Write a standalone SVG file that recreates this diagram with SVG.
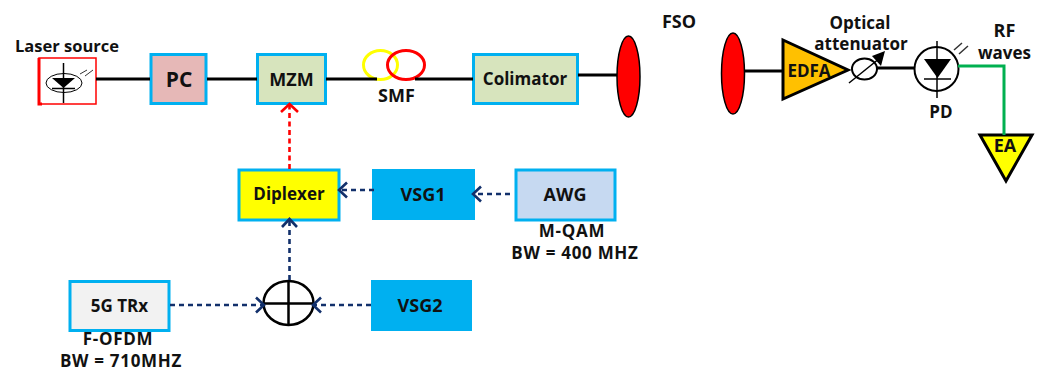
<svg xmlns="http://www.w3.org/2000/svg" width="1041" height="370" viewBox="0 0 1041 370">
<defs>
<marker id="navy" markerUnits="userSpaceOnUse" markerWidth="14" markerHeight="20" refX="11" refY="10" orient="auto"><path d="M3 2.500 L11 10 L3 17.500" fill="none" stroke="#12306b" stroke-width="2.600"/></marker>
<marker id="redm" markerUnits="userSpaceOnUse" markerWidth="14" markerHeight="22" refX="11" refY="11" orient="auto"><path d="M3 2.500 L11 11 L3 19.500" fill="none" stroke="#ff0000" stroke-width="2.600"/></marker>
</defs>
<style>
text{font-family:"Open Sans","Liberation Sans",Arial,sans-serif;font-weight:700;fill:#111;text-anchor:middle}
.t16{font-size:16.500px}.t17{font-size:17px}.t18{font-size:18px}.t21{font-size:21px}
.cap{font-size:17px;letter-spacing:.7px}
.box{stroke:#00b0f0;stroke-width:3}
.solid{fill:#00b0f0;stroke:#00b0f0;stroke-width:1}
.k{fill:none;stroke:#000;stroke-width:3}
.thin{fill:none;stroke:#000;stroke-width:1.500}
.nv{fill:none;stroke:#12306b;stroke-width:2.600;stroke-dasharray:5 4}
.lens{fill:#ff0000;stroke:#000;stroke-width:1.500}
</style>
<rect width="1041" height="370" fill="#fff"/>
<g id="laser">
<rect x="39" y="58" width="57" height="46" fill="#fff" stroke="#ff0000" stroke-width="1.500"/>
<path d="M39 58V104H42" fill="none" stroke="#ff0000" stroke-width="3"/>
<ellipse cx="64" cy="83" rx="18" ry="9.500" fill="none" stroke="#000" stroke-width="1"/>
<path d="M63.500 63V103" class="thin"/>
<path d="M52 78H75L63.500 88Z" fill="#000"/>
<path d="M52 88.500H75" class="thin"/>
<path d="M80 74L87 70M85 76L93 70" stroke="#333" stroke-width="1" fill="none"/>
<text class="t16" x="67" y="52">Laser source</text>
</g>
<g id="pc"><rect class="box" x="151" y="54.500" width="55" height="49" fill="#e6b8b7"/><text class="t21" x="179" y="87">PC</text></g>
<g id="mzm"><rect class="box" x="257.500" y="54.500" width="68" height="49" fill="#d7e4bd"/><text class="t18" x="291.500" y="86">MZM</text></g>
<g id="smf">
<ellipse cx="380.500" cy="65" rx="17" ry="14.500" fill="none" stroke="#ffff00" stroke-width="3"/>
<ellipse cx="406" cy="65" rx="18.500" ry="14.500" fill="none" stroke="#ff0000" stroke-width="3"/>
<text class="t18" x="396.500" y="102">SMF</text>
</g>
<g id="colimator"><rect class="box" x="473.500" y="54.500" width="104" height="49" fill="#d7e4bd"/><text class="t17" x="525" y="85">Colimator</text></g>
<g id="lens-tx"><ellipse class="lens" cx="628.500" cy="76.500" rx="11.500" ry="40.500"/></g>
<g id="fso"><text class="t18" x="679" y="28">FSO</text></g>
<g id="lens-rx"><ellipse class="lens" cx="733" cy="73.500" rx="11.500" ry="40.500"/></g>
<g id="edfa"><path d="M783 40L848 70L783 99Z" fill="#ffc000" stroke="#000" stroke-width="3"/><text class="t17" x="809" y="77">EDFA</text></g>
<g id="attenuator">
<ellipse cx="864.500" cy="69" rx="12.500" ry="10.500" fill="#fff" stroke="#000" stroke-width="2"/>
<path d="M849 83L880 58" stroke="#000" stroke-width="1.500"/>
<path d="M885 51L872 56L881 66Z" fill="#000"/>
<text class="t17" x="860" y="29">Optical</text>
<text class="t17" x="861" y="50">attenuator</text>
</g>
<g id="pd">
<circle cx="936.500" cy="69" r="22" fill="#fff" stroke="#000" stroke-width="2"/>
<path d="M937 41V98" stroke="#000" stroke-width="1.500"/>
<path d="M924 59H951L937.500 78Z" fill="#000"/>
<path d="M924 79H951" stroke="#000" stroke-width="1.500"/>
<path d="M954 50L962 43M959 54L968 46" stroke="#333" stroke-width="1.500"/>
<text class="t17" x="941" y="118">PD</text>
</g>
<g id="rf"><text class="t18" x="1004.500" y="37">RF</text><text class="t17" x="1004.500" y="59">waves</text></g>
<g id="ea"><path d="M980 135H1032L1006 181Z" fill="#ffff00" stroke="#000" stroke-width="3"/><text class="t18" x="1005" y="152">EA</text></g>
<g id="diplexer"><rect class="box" x="239" y="170" width="100" height="50" fill="#ffff00"/><text class="t17" x="289" y="200">Diplexer</text></g>
<g id="vsg1"><rect class="solid" x="372.500" y="169.500" width="102" height="50"/><text class="t18" x="423" y="201">VSG1</text></g>
<g id="awg"><rect class="box" x="516" y="170" width="99" height="50" fill="#c6d9f1"/><text class="t18" x="565" y="201">AWG</text><text class="cap" x="572" y="237">M-QAM</text><text class="cap" x="575" y="259">BW = 400 MHZ</text></g>
<g id="combiner">
<ellipse cx="288.500" cy="303" rx="25" ry="22" fill="#fff" stroke="#000" stroke-width="2.500"/>
<path d="M288.500 281V325M264 303.500H313" stroke="#000" stroke-width="2.500"/>
</g>
<g id="trx"><rect class="box" x="70" y="281.500" width="99" height="49" fill="#f2f2f2"/><text class="t17" x="119.500" y="312">5G TRx</text><text class="cap" x="118" y="345">F-OFDM</text><text class="cap" x="121" y="367">BW = 710MHZ</text></g>
<g id="vsg2"><rect class="solid" x="371.500" y="280.500" width="100" height="50"/><text class="t18" x="420" y="312">VSG2</text></g>
<g id="connectors">
<path class="k" d="M96 79H150M207 79H257M326 79H377M415 79H473M578 75H617M744 71H783M877 68H914"/>
<path d="M958 66H1004V135" fill="none" stroke="#00b050" stroke-width="3"/>
<path d="M289.500 169V104" fill="none" stroke="#ff0000" stroke-width="2.600" stroke-dasharray="5 3.500" marker-end="url(#redm)"/>
<path class="nv" d="M289.500 280V219" marker-end="url(#navy)"/>
<path class="nv" d="M374 190H339" marker-end="url(#navy)"/>
<path class="nv" d="M510 194H473" marker-end="url(#navy)"/>
<path class="nv" d="M170 305H264" marker-end="url(#navy)"/>
<path class="nv" d="M371 305H313" marker-end="url(#navy)"/>
</g>
</svg>
